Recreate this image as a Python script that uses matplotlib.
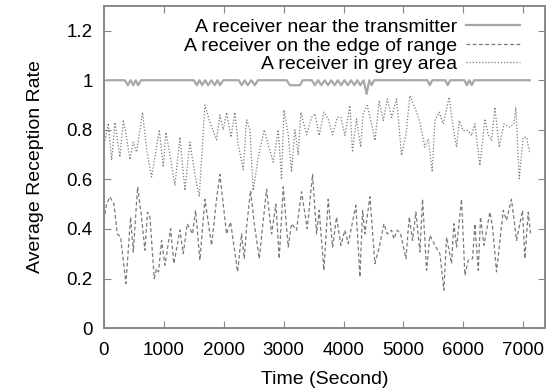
import matplotlib.pyplot as plt
from matplotlib.ticker import FuncFormatter

# Receiver near the transmitter: flat at 1 with small dips
near_t = [50, 350, 400, 445, 490, 530, 570, 620,
          1500, 1550, 1595, 1640, 1690, 1740, 1795, 1850, 1895, 1940, 1990,
          2250, 2300, 2350, 2400, 2460, 2520, 2570,
          3050, 3105, 3272, 3320,
          3470, 3520, 3575, 3630, 3685, 3740, 3795, 3850, 3905, 3960, 4015,
          4070, 4125, 4180, 4230, 4280, 4335, 4385, 4430, 4470, 4510,
          5400, 5440, 5480, 5700, 5740, 5780, 6020, 6060, 6100, 6140, 6180,
          7110]
near_v = [1, 1, 0.98, 1, 0.98, 1, 0.98, 1,
          1, 0.98, 1, 0.98, 1, 0.98, 1, 0.98, 1, 0.98, 1,
          1, 0.98, 1, 0.98, 1, 0.98, 1,
          1, 0.98, 0.98, 1,
          1, 0.98, 1, 0.98, 1, 0.98, 1, 0.98, 1, 0.98, 1,
          0.98, 1, 0.98, 1, 0.98, 1, 0.945, 1, 0.98, 1,
          1, 0.98, 1, 1, 0.98, 1, 1, 0.98, 1, 0.98, 1,
          1]

# Receiver in grey area (upper noisy series)
grey_t = [17, 72, 128, 184, 267, 323, 378, 434, 490, 545, 645, 712, 796, 851,
          924, 990, 1035, 1102, 1185, 1268, 1352, 1435, 1519, 1591, 1686,
          1769, 1880, 1936, 1992, 2047, 2120, 2186, 2242, 2326, 2381, 2437,
          2492, 2576, 2676, 2743, 2826, 2910, 2965, 3004, 3077, 3132, 3188,
          3243, 3288, 3383, 3466, 3522, 3594, 3672, 3744, 3817, 3895, 3956,
          4023, 4106, 4150, 4217, 4284, 4329, 4396, 4468, 4524, 4596, 4663,
          4730, 4802, 4885, 4969, 5041, 5108, 5208, 5275, 5358, 5414, 5481,
          5525, 5597, 5664, 5764, 5820, 5887, 5931, 5998, 6082, 6137, 6193,
          6276, 6360, 6415, 6471, 6526, 6599, 6677, 6777, 6844, 6877, 6933,
          7000, 7055, 7111]
grey_v = [0.757, 0.826, 0.677, 0.83, 0.69, 0.84, 0.77, 0.68, 0.75, 0.71,
          0.87, 0.72, 0.61, 0.69, 0.80, 0.65, 0.79, 0.70, 0.575, 0.77, 0.555,
          0.75, 0.62, 0.53, 0.90, 0.83, 0.76, 0.86, 0.80, 0.87, 0.77, 0.87,
          0.74, 0.64, 0.84, 0.80, 0.555, 0.69, 0.80, 0.74, 0.67, 0.80, 0.60,
          0.88, 0.78, 0.63, 0.80, 0.70, 0.87, 0.78, 0.85, 0.865, 0.777, 0.871,
          0.844, 0.78, 0.85, 0.85, 0.777, 0.898, 0.71, 0.844, 0.73, 0.865,
          0.898, 0.824, 0.757, 0.918, 0.837, 0.925, 0.85, 0.925, 0.697, 0.78,
          0.938, 0.878, 0.83, 0.73, 0.763, 0.63, 0.837, 0.871, 0.824, 0.932,
          0.824, 0.73, 0.837, 0.797, 0.797, 0.777, 0.824, 0.656, 0.844, 0.78,
          0.757, 0.891, 0.73, 0.824, 0.81, 0.824, 0.891, 0.603, 0.77, 0.77,
          0.703]

# Receiver on the edge of range (lower noisy series)
edge_t = [0, 44, 100, 167, 223, 278, 367, 445, 490, 562, 628, 684, 729, 768,
          840, 879, 912, 962, 1018, 1113, 1168, 1268, 1324, 1391, 1480, 1530,
          1602, 1686, 1797, 1880, 1936, 2047, 2114, 2231, 2298, 2343, 2381,
          2448, 2510, 2593, 2660, 2715, 2799, 2871, 2926, 2993, 3076, 3132,
          3215, 3299, 3394, 3483, 3550, 3594, 3672, 3744, 3817, 3883, 3956,
          4023, 4078, 4206, 4273, 4318, 4356, 4440, 4524, 4596, 4674, 4730,
          4802, 4840, 4896, 4952, 5041, 5097, 5152, 5208, 5275, 5319, 5386,
          5442, 5542, 5609, 5675, 5720, 5803, 5842, 5887, 5970, 6026, 6082,
          6154, 6193, 6249, 6287, 6343, 6443, 6487, 6554, 6666, 6721, 6804,
          6888, 6988, 7027, 7083, 7122]
edge_v = [0.435, 0.50, 0.53, 0.50, 0.38, 0.368, 0.18, 0.448, 0.307, 0.57,
          0.448, 0.314, 0.468, 0.448, 0.20, 0.24, 0.227, 0.354, 0.254, 0.401,
          0.26, 0.395, 0.30, 0.421, 0.38, 0.475, 0.274, 0.52, 0.334, 0.52,
          0.62, 0.38, 0.428, 0.227, 0.38, 0.28, 0.408, 0.555, 0.421, 0.28,
          0.435, 0.56, 0.38, 0.50, 0.28, 0.57, 0.327, 0.421, 0.395, 0.55,
          0.401, 0.62, 0.38, 0.475, 0.233, 0.52, 0.327, 0.448, 0.334, 0.395,
          0.341, 0.495, 0.206, 0.475, 0.38, 0.53, 0.26, 0.327, 0.421, 0.38,
          0.395, 0.36, 0.395, 0.38, 0.28, 0.448, 0.354, 0.468, 0.307, 0.52,
          0.233, 0.374, 0.327, 0.30, 0.153, 0.367, 0.26, 0.421, 0.327, 0.52,
          0.213, 0.274, 0.28, 0.421, 0.233, 0.448, 0.334, 0.468, 0.408, 0.227,
          0.475, 0.435, 0.52, 0.354, 0.475, 0.28, 0.468, 0.38]

plt.rcParams['font.family'] = ['Liberation Sans', 'DejaVu Sans']

fig = plt.figure(figsize=(5.47, 3.92), dpi=100)
ax = fig.add_axes([0.190, 0.163, 0.806, 0.822])

ax.plot(near_t, near_v, color='#a8a8a8', linewidth=1.6, linestyle='-',
        label='A receiver near the transmitter')
ax.plot(edge_t, edge_v, color='#7a7a7a', linewidth=0.9, linestyle=(0, (3, 2)),
        label='A receiver on the edge of range')
ax.plot(grey_t, grey_v, color='#7a7a7a', linewidth=0.9, linestyle=(0, (1, 1.5)),
        label='A receiver in grey area')

ax.set_xlim(0, 7360)
ax.set_ylim(0, 1.3)
ax.set_xticks(range(0, 8000, 1000))
ax.set_yticks([0, 0.2, 0.4, 0.6, 0.8, 1.0, 1.2])
ax.yaxis.set_major_formatter(FuncFormatter(lambda v, p: '%g' % v))
ax.tick_params(direction='in', top=True, right=True, length=5,
               color='#888888', labelsize=13.5)
ax.tick_params(axis='x', pad=10)
ax.tick_params(axis='y', pad=8)
for s in ax.spines.values():
    s.set_color('#888888')
    s.set_linewidth(1.4)

ax.set_xlabel('Time (Second)', fontsize=14, labelpad=9)
ax.set_ylabel('Average Reception Rate', fontsize=14, labelpad=16)

ax.legend(loc='upper right', bbox_to_anchor=(0.973, 1.0), frameon=False,
          markerfirst=False, fontsize=14, handlelength=2.8, labelspacing=0.05,
          borderaxespad=0.25, handletextpad=0.45)

plt.savefig('out.png', dpi=100)
